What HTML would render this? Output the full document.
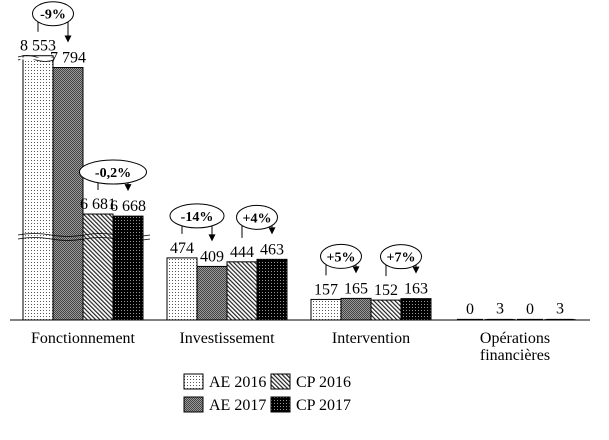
<!DOCTYPE html>
<html><head><meta charset="utf-8"><style>
html,body{margin:0;padding:0;background:#fff;}
svg{display:block;font-family:"Liberation Serif",serif;}
</style></head><body>
<svg id="chart" width="609" height="440" viewBox="0 0 609 440" xmlns="http://www.w3.org/2000/svg">
<defs>
<pattern id="pAE16" width="3" height="3" patternUnits="userSpaceOnUse"><rect width="3" height="3" fill="#fff"/><rect x="1" y="1" width="1" height="1" fill="#555"/></pattern>
<pattern id="pAE17" width="2" height="2" patternUnits="userSpaceOnUse"><rect width="2" height="2" fill="#999"/><rect width="1" height="1" fill="#444"/><rect x="1" y="1" width="1" height="1" fill="#444"/></pattern>
<pattern id="pCP16" width="3" height="3" patternUnits="userSpaceOnUse" patternTransform="rotate(-45)"><rect width="3" height="3" fill="#fff"/><rect width="1.2" height="3" fill="#222"/></pattern>
<pattern id="pCP17" width="3" height="3" patternUnits="userSpaceOnUse"><rect width="3" height="3" fill="#000"/><rect x="1" y="1" width="1" height="1" fill="#999"/></pattern>
</defs>
<g id="bars"></g>
<g id="labels"></g>
<g id="badges"></g>
<line x1="10" y1="320" x2="590" y2="320" stroke="#000" stroke-width="1"/>
<path d="M18,57 q9,-3 18,0 t18,0 M18,60 q9,-3 18,0 t18,0" fill="none" stroke="#000" stroke-width="0.8"/>
<rect x="20" y="57.5" width="33" height="2" fill="#fff"/>
<path d="M18,235 q16,-3 33,0 t33,0 t33,0 t33,0 M18,239 q16,-3 33,0 t33,0 t33,0 t33,0" fill="none" stroke="#000" stroke-width="0.8"/>
<g font-size="16">
<rect x="184" y="374" width="19" height="15" fill="url(#pAE16)" stroke="#000"/>
<text x="209" y="387">AE 2016</text>
<rect x="271" y="374" width="19" height="15" fill="url(#pCP16)" stroke="#000"/>
<text x="296" y="387">CP 2016</text>
<rect x="184" y="397" width="19" height="15" fill="url(#pAE17)" stroke="#000"/>
<text x="209" y="410">AE 2017</text>
<rect x="271" y="397" width="19" height="15" fill="url(#pCP17)" stroke="#000"/>
<text x="296" y="410">CP 2017</text>
</g>
</svg>
<script>
const categories = ["Fonctionnement", "Investissement", "Intervention", "Opérations financières"];
const seriesNames = ["AE 2016", "AE 2017", "CP 2016", "CP 2017"];
const ae2016 = [8553, 474, 157, 0];
const ae2017 = [7794, 409, 165, 3];
const cp2016 = [6681, 444, 152, 0];
const cp2017 = [6668, 463, 163, 3];
const valueLabels = [["8 553","7 794","6 681","6 668"],["474","409","444","463"],["157","165","152","163"],["0","3","0","3"]];
const changeAE = ["-9%", "-14%", "+5%", null];
const changeCP = ["-0,2%", "+4%", "+7%", null];

const NS = "http://www.w3.org/2000/svg";
const fills = ["url(#pAE16)","url(#pAE17)","url(#pCP16)","url(#pCP17)"];
const series = [ae2016, ae2017, cp2016, cp2017];
const kv = [0, 500, 6600, 6700, 7700, 8600];
const ky = [320, 254.5, 227, 211, 69, 55];
function yScale(v){
  for (let i=1;i<kv.length;i++){
    if (v<=kv[i]){ const t=(v-kv[i-1])/(kv[i]-kv[i-1]); return ky[i-1]+t*(ky[i]-ky[i-1]); }
  }
  return ky[ky.length-1];
}
const groupX0 = 23, groupStep = 144, barW = 30;
function xBar(g,s){ return groupX0 + g*groupStep + s*barW; }
const gBars = document.getElementById('bars');
const gLab = document.getElementById('labels');
const gBad = document.getElementById('badges');
function mk(tag, attrs, parent){ const e=document.createElementNS(NS,tag); for(const k in attrs) e.setAttribute(k,attrs[k]); parent.appendChild(e); return e; }
categories.forEach((c,g)=>{
  series.forEach((arr,s)=>{
    const v = arr[g], x = xBar(g,s), y = yScale(v);
    const r = mk('rect',{x:x,y:y,width:barW,height:Math.max(320-y,0.01),fill:fills[s],stroke:"#000","stroke-width":v>0?1:0.8},gBars);
    
    
    if (v < 10) { const l = mk('line',{x1:x+2,y1:319.5,x2:x+barW-2,y2:319.5,stroke:"#000","stroke-width":1.2},gBars);
      
       }
    const t = mk('text',{x:x+barW/2,y:y-(v<10?6:5),"text-anchor":"middle","font-size":"16"},gLab);
    t.textContent = valueLabels[g][s];
    
    
  });
  const cx = groupX0 + g*groupStep + 2*barW;
  const words = c.split(' ');
  const ct = mk('text',{x:cx,y:343,"text-anchor":"middle","font-size":"16"},gLab);
  
  
  if (g===3){ words.forEach((w,i)=>{ const sp=mk('tspan',{x:cx,dy:i?17:0},ct); sp.textContent=w; }); }
  else ct.textContent = c;
  [[changeAE,0],[changeCP,2]].forEach(([arr,s])=>{
    const txt = arr[g]; if(!txt) return;
    const x1 = xBar(g,s)+barW/2, x2 = xBar(g,s+1)+barW/2;
    const top = Math.min(yScale(series[s][g]), yScale(series[s+1][g]));
    const cy = top-42, mx=(x1+x2)/2, rw = txt.length*6.5+1;
    const y1end = yScale(series[s][g])-24, y2end = yScale(series[s+1][g])-25;
    const grp = mk('g',{},gBad);
    
    
    mk('line',{x1:x1,y1:cy,x2:x1,y2:y1end,stroke:"#000"},grp);
    mk('line',{x1:x2,y1:cy,x2:x2,y2:y2end-6,stroke:"#000"},grp);
    mk('path',{d:`M${x2-3.5},${y2end-7} L${x2+3.5},${y2end-7} L${x2},${y2end} z`,fill:"#000"},grp);
    mk('ellipse',{cx:mx,cy:cy,rx:rw,ry:12,fill:"#fff",stroke:"#000"},grp);
    const bt = mk('text',{x:mx,y:cy+5,"text-anchor":"middle","font-size":"14","font-weight":"bold"},grp);
    bt.textContent = txt;
  });
});
</script>
</body></html>
